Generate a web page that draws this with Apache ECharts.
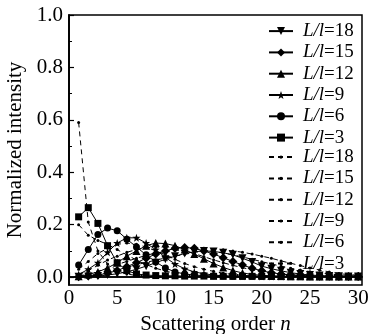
<!DOCTYPE html>
<html><head><meta charset="utf-8">
<script src="https://cdn.jsdelivr.net/npm/echarts@6/dist/echarts.min.js"></script>
<style>html,body{margin:0;padding:0;background:#fff}#c{width:372px;height:334px}</style>
</head><body><div id="c"></div>
<script>
const orders = [1,2,3,4,5,6,7,8,9,10,11,12,13,14,15,16,17,18,19,20,21,22,23,24,25,26,27,28,29,30];
const xMajorTicks = [0,5,10,15,20,25,30];
const xMinorTicks = [2.5,7.5,12.5,17.5,22.5,27.5];
const yMajorTicks = [0,0.2,0.4,0.6,0.8,1.0];
const yMinorTicks = [0.1,0.3,0.5,0.7,0.9];

// simulation (solid, with markers)
const s18 = [0.001,0.002,0.004,0.008,0.013,0.02,0.03,0.042,0.055,0.068,0.08,0.09,0.097,0.1,0.098,0.093,0.085,0.072,0.058,0.042,0.032,0.024,0.017,0.012,0.008,0.006,0.004,0.003,0.002,0.002];
const s15 = [0.001,0.004,0.008,0.015,0.025,0.04,0.055,0.072,0.088,0.1,0.11,0.113,0.11,0.1,0.088,0.074,0.06,0.046,0.034,0.024,0.017,0.012,0.008,0.006,0.004,0.003,0.003,0.002,0.002,0.002];
const s12 = [0.003,0.01,0.02,0.035,0.055,0.08,0.1,0.12,0.13,0.128,0.12,0.105,0.088,0.07,0.052,0.037,0.025,0.016,0.01,0.007,0.005,0.004,0.003,0.003,0.002,0.002,0.002,0.002,0.002,0.002];
const s9  = [0.01,0.03,0.055,0.095,0.13,0.15,0.15,0.13,0.105,0.075,0.05,0.032,0.02,0.013,0.008,0.005,0.004,0.003,0.003,0.002,0.002,0.002,0.002,0.002,0.002,0.002,0.002,0.002,0.002,0.002];
const s6  = [0.046,0.105,0.163,0.187,0.177,0.145,0.115,0.085,0.058,0.035,0.02,0.012,0.008,0.006,0.005,0.004,0.003,0.003,0.003,0.003,0.003,0.003,0.003,0.003,0.003,0.003,0.003,0.003,0.003,0.003];
const s3  = [0.23,0.265,0.205,0.12,0.055,0.025,0.012,0.008,0.006,0.005,0.005,0.004,0.004,0.004,0.003,0.003,0.003,0.003,0.003,0.003,0.003,0.002,0.002,0.002,0.002,0.002,0.002,0.002,0.002,0.002];

// theory (dashed)
const t18 = [0.002,0.006,0.012,0.02,0.029,0.038,0.047,0.056,0.065,0.073,0.08,0.087,0.094,0.1,0.104,0.104,0.1,0.095,0.088,0.08,0.072,0.062,0.053,0.044,0.035,0.027,0.02,0.014,0.01,0.007];
const t15 = [0.005,0.012,0.022,0.035,0.048,0.06,0.072,0.083,0.092,0.098,0.102,0.104,0.104,0.102,0.098,0.092,0.085,0.077,0.068,0.059,0.05,0.042,0.034,0.027,0.021,0.016,0.012,0.009,0.006,0.004];
const t12 = [0.01,0.025,0.045,0.065,0.08,0.095,0.105,0.112,0.115,0.113,0.108,0.1,0.09,0.078,0.066,0.055,0.045,0.036,0.028,0.021,0.016,0.012,0.009,0.006,0.004,0.003,0.002,0.002,0.001,0.001];
const t9  = [0.03,0.06,0.09,0.11,0.125,0.13,0.125,0.115,0.1,0.085,0.068,0.052,0.04,0.03,0.022,0.015,0.01,0.007,0.005,0.003,0.002,0.002,0.001,0.001,0.001,0.001,0.001,0.001,0.001,0.001];
const t6  = [0.2,0.16,0.14,0.125,0.105,0.085,0.065,0.048,0.034,0.023,0.015,0.01,0.006,0.004,0.003,0.002,0.001,0.001,0.001,0.001,0.001,0.001,0.001,0.001,0.001,0.001,0.001,0.001,0.001,0.001];
const t3  = [0.59,0.21,0.1,0.05,0.025,0.012,0.006,0.003,0.002,0.001,0.001,0.001,0.001,0.001,0.001,0.001,0.001,0.001,0.001,0.001,0.001,0.001,0.001,0.001,0.001,0.001,0.001,0.001,0.001,0.001];

const labels = ['18','15','12','9','6','3'];
const simData = [s18,s15,s12,s9,s6,s3];
const theoData = [t18,t15,t12,t9,t6,t3];

const starPath = 'path://M0,-10L2.35,-3.24L9.51,-3.09L3.8,1.24L5.88,8.09L0,4L-5.88,8.09L-3.8,1.24L-9.51,-3.09L-2.35,-3.24Z';
const symbols = [
  {symbol:'triangle', size:8, rotate:180},
  {symbol:'diamond', size:9, rotate:0},
  {symbol:'triangle', size:8, rotate:0},
  {symbol:starPath, size:8, rotate:0},
  {symbol:'circle', size:7, rotate:0},
  {symbol:'rect', size:7, rotate:0}
];

const FONT = 'Liberation Serif';
const series = [];
simData.forEach((d,i)=>{
  series.push({
    name: 'sim'+labels[i], type:'line',
    data: orders.map((n,k)=>[n,d[k]]),
    symbol: symbols[i].symbol, symbolSize: symbols[i].size, symbolRotate: symbols[i].rotate,
    lineStyle:{color:'#000', width:1}, itemStyle:{color:'#000'}, animation:false, z:3
  });
});
theoData.forEach((d,i)=>{
  series.push({
    name: 'theo'+labels[i], type:'line',
    data: orders.map((n,k)=>[n,d[k]]),
    symbol:'circle', symbolSize:3,
    lineStyle:{color:'#000', width:1, type:[5,4]}, itemStyle:{color:'#000'}, animation:false, z:2
  });
});

const legendText = {fontFamily:FONT, fontSize:19, color:'#000', lineHeight:12, padding:[0,0,0,5],
  rich:{i:{fontFamily:FONT, fontStyle:'italic', fontSize:19, color:'#000', lineHeight:12}}};
const fmt = (name)=> '{i|L/l}=' + name.replace(/^(sim|theo)/,'');
const legendBase = {orient:'vertical', left:268, padding:0, itemWidth:24, itemGap:2.3,
  formatter:fmt, textStyle:legendText, selectedMode:false};

const chart = echarts.init(document.getElementById('c'), null, {renderer:'canvas'});
const axisBase = {
  axisLine:{show:true, lineStyle:{color:'#000', width:1.5}},
  splitLine:{show:false}
};
chart.setOption({
  animation:false,
  grid:{left:69, top:15, right:10, bottom:49, outerBoundsMode:'none', containLabel:false,
    show:true, borderColor:'#000', borderWidth:1.5, backgroundColor:'transparent'},
  legend:[
    Object.assign({}, legendBase, {data: series.slice(0,6).map(s=>s.name), top:21.6, itemHeight:10}),
    Object.assign({}, legendBase, {data: series.slice(6).map(s=>s.name), top:147.6, itemHeight:4})
  ],
  xAxis:[
    Object.assign({}, axisBase, {
      type:'value', min:0, max:30.4, position:'bottom',
      name:'Scattering order {i|n}', nameLocation:'middle', nameGap:21.5,
      nameTextStyle:{fontFamily:FONT, fontSize:21, color:'#000',
        rich:{i:{fontFamily:FONT, fontStyle:'italic', fontSize:21, color:'#000'}}},
      axisTick:{show:true, inside:true, length:5, lineStyle:{color:'#000', width:1.2}, customValues:xMajorTicks},
      axisLabel:{fontFamily:FONT, fontSize:21, color:'#000', margin:3, customValues:xMajorTicks}
    }),
    Object.assign({}, axisBase, {
      type:'value', min:0, max:30.4, position:'bottom', gridIndex:0,
      axisTick:{show:true, inside:true, length:3, lineStyle:{color:'#000', width:1}, customValues:xMinorTicks},
      axisLabel:{show:false}
    })
  ],
  yAxis:[
    Object.assign({}, axisBase, {
      type:'value', min:-0.03, max:1.0, position:'left',
      name:'Normalized intensity', nameLocation:'middle', nameGap:37.5,
      nameTextStyle:{fontFamily:FONT, fontSize:21, color:'#000'},
      axisTick:{show:true, inside:true, length:5, lineStyle:{color:'#000', width:1.2}, customValues:yMajorTicks},
      axisLabel:{fontFamily:FONT, fontSize:21, color:'#000', margin:6, customValues:yMajorTicks,
        formatter:(v)=>v.toFixed(1)}
    }),
    Object.assign({}, axisBase, {
      type:'value', min:-0.03, max:1.0, position:'left',
      axisTick:{show:true, inside:true, length:3, lineStyle:{color:'#000', width:1}, customValues:yMinorTicks},
      axisLabel:{show:false}
    })
  ],
  series: series
});
</script>
</body></html>
